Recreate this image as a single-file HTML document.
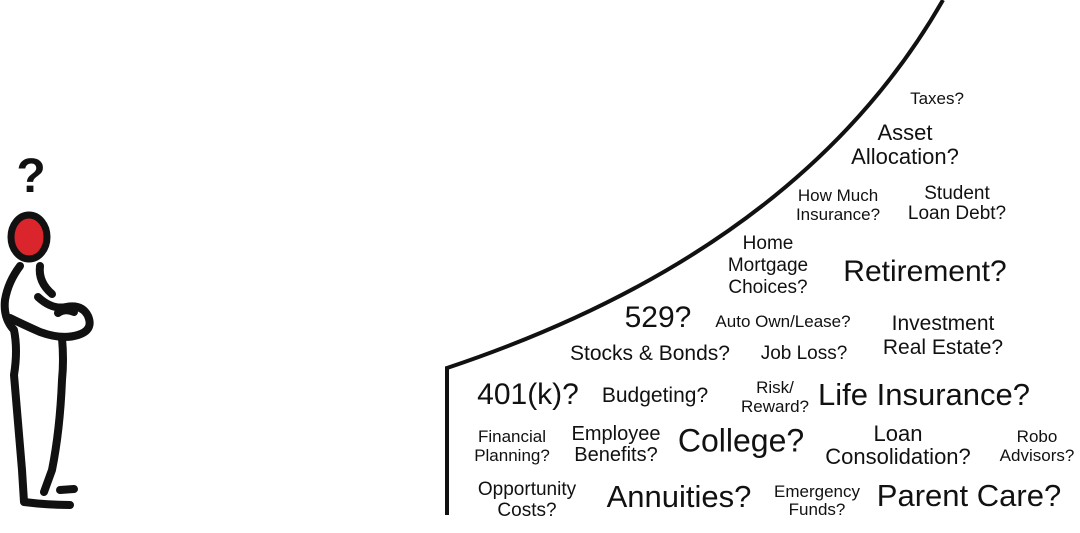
<!DOCTYPE html>
<html><head><meta charset="utf-8"><style>
html,body{margin:0;padding:0;background:#fff;}
#c{position:relative;width:1080px;height:533px;overflow:hidden;font-family:"Liberation Sans",sans-serif;color:#111;}
.t{position:absolute;white-space:nowrap;text-align:center;transform:translate(-50%,-50%);}
</style></head><body><div id="c">
<svg width="1080" height="533" style="position:absolute;left:0;top:0">
<path d="M447,515 L447,368 Q800,250 943,0" fill="none" stroke="#111" stroke-width="4"/>
<g fill="none" stroke="#111" stroke-width="8" stroke-linecap="round" stroke-linejoin="round">
<path d="M20,266 Q8,282 5,300 Q3,318 14,330 Q18,350 14,375 Q18,420 22,470 L24,502 Q48,505 70,505"/>
<path d="M40,266 Q38,282 52,294"/>
<path d="M38,297 Q52,310 66,307 Q82,304 88,316 Q94,330 78,335 Q62,340 40,332 Q22,324 10,318"/>
<path d="M62,338 Q64,360 62,380 Q60,430 52,470 L44,492"/>
<path d="M60,490 L74,489"/>
<path d="M58,313 Q65,308 74,312"/>
</g>
<ellipse cx="29" cy="237" rx="18" ry="22" fill="#d9252b" stroke="#111" stroke-width="7"/>
<text x="31" y="192" font-family="Liberation Sans" font-weight="bold" font-size="48" text-anchor="middle" fill="#111">?</text>
</svg>
<div class="t" style="left:937px;top:99px;font-size:17px">Taxes?</div>
<div class="t" style="left:905px;top:145px;font-size:22px;line-height:24px">Asset<br>Allocation?</div>
<div class="t" style="left:838px;top:205px;font-size:17px;line-height:19px">How Much<br>Insurance?</div>
<div class="t" style="left:957px;top:204px;font-size:19px;line-height:20px">Student<br>Loan Debt?</div>
<div class="t" style="left:768px;top:266px;font-size:19px;line-height:22px">Home<br>Mortgage<br>Choices?</div>
<div class="t" style="left:925px;top:272px;font-size:30px">Retirement?</div>
<div class="t" style="left:658px;top:318px;font-size:30px">529?</div>
<div class="t" style="left:783px;top:322px;font-size:17px">Auto Own/Lease?</div>
<div class="t" style="left:943px;top:336px;font-size:21px;line-height:24px">Investment<br>Real Estate?</div>
<div class="t" style="left:650px;top:354px;font-size:21px">Stocks &amp; Bonds?</div>
<div class="t" style="left:804px;top:354px;font-size:19px">Job Loss?</div>
<div class="t" style="left:528px;top:395px;font-size:30px">401(k)?</div>
<div class="t" style="left:655px;top:396px;font-size:21px">Budgeting?</div>
<div class="t" style="left:775px;top:397px;font-size:17px;line-height:19px">Risk/<br>Reward?</div>
<div class="t" style="left:924px;top:395px;font-size:31px">Life Insurance?</div>
<div class="t" style="left:512px;top:446px;font-size:17px;line-height:19px">Financial<br>Planning?</div>
<div class="t" style="left:616px;top:445px;font-size:20px;line-height:21px">Employee<br>Benefits?</div>
<div class="t" style="left:741px;top:441px;font-size:32px">College?</div>
<div class="t" style="left:898px;top:445px;font-size:22px;line-height:23px">Loan<br>Consolidation?</div>
<div class="t" style="left:1037px;top:446px;font-size:17px;line-height:19px">Robo<br>Advisors?</div>
<div class="t" style="left:527px;top:500px;font-size:19px;line-height:21px">Opportunity<br>Costs?</div>
<div class="t" style="left:679px;top:497px;font-size:31px">Annuities?</div>
<div class="t" style="left:817px;top:501px;font-size:17px;line-height:18px">Emergency<br>Funds?</div>
<div class="t" style="left:969px;top:496px;font-size:31px">Parent Care?</div>
</div></body></html>
